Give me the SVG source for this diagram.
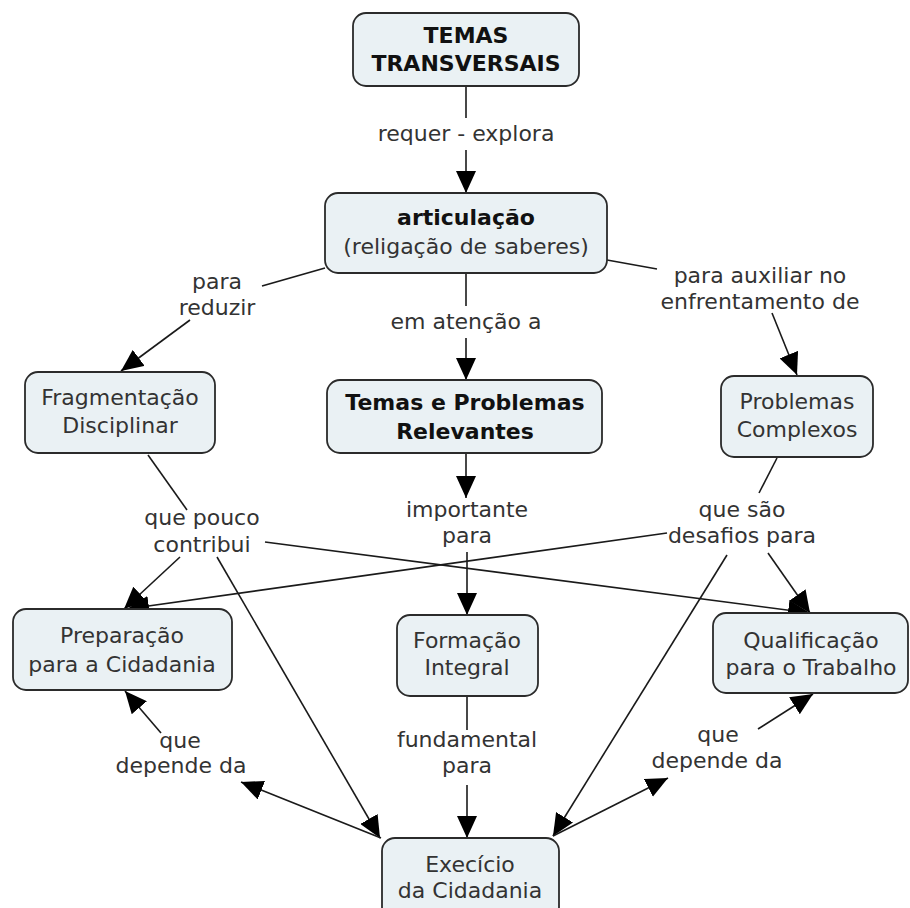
<svg xmlns="http://www.w3.org/2000/svg" width="910" height="908" viewBox="0 0 910 908">
  <defs>
    <marker id="arrow" viewBox="0 0 22 20" refX="22" refY="10" markerWidth="22" markerHeight="20" markerUnits="userSpaceOnUse" orient="auto">
      <path d="M0,0 L22,10 L0,20 z" fill="#000"/>
    </marker>
    <style>
      .box { fill: #eaf1f4; stroke: #2b2b2b; stroke-width: 1.8; }
      .t { font-family: "DejaVu Sans", Verdana, sans-serif; font-size: 22px; fill: #333; text-anchor: middle; }
      .b { font-weight: bold; fill: #111; }
      .c { fill: none; stroke: #1a1a1a; stroke-width: 1.6; }
      .a { marker-end: url(#arrow); }
    </style>
  </defs>
  <rect width="910" height="908" fill="#fff"/>

  <!-- connectors -->
  <g id="connectors">
    <!-- TEMAS TRANSVERSAIS -> articulação -->
    <line class="c" x1="466" y1="86" x2="466" y2="118"/>
    <line class="c a" x1="466" y1="150" x2="466" y2="193"/>
    <!-- articulação -> Fragmentação -->
    <line class="c" x1="325" y1="268" x2="262" y2="286"/>
    <line class="c a" x1="190" y1="320" x2="121" y2="371"/>
    <!-- articulação -> Temas e Problemas -->
    <line class="c" x1="466" y1="273" x2="466" y2="306"/>
    <line class="c a" x1="466" y1="338" x2="466" y2="380"/>
    <!-- articulação -> Problemas Complexos -->
    <line class="c" x1="607" y1="260" x2="657" y2="269"/>
    <line class="c a" x1="772" y1="313" x2="797" y2="375"/>
    <!-- Temas e Problemas -> Formação Integral -->
    <line class="c a" x1="466" y1="453" x2="466" y2="498"/>
    <line class="c a" x1="467" y1="552" x2="467" y2="615"/>
    <!-- Fragmentação -> que pouco contribui -->
    <line class="c" x1="148" y1="455" x2="187" y2="510"/>
    <line class="c a" x1="180" y1="557" x2="124" y2="609"/>
    <line class="c a" x1="265" y1="542" x2="810" y2="613"/>
    <line class="c a" x1="217" y1="557" x2="380" y2="838"/>
    <!-- Problemas Complexos -> que são desafios para -->
    <line class="c" x1="777" y1="458" x2="759" y2="493"/>
    <line class="c a" x1="667" y1="533" x2="127" y2="609"/>
    <line class="c a" x1="768" y1="553" x2="810" y2="613"/>
    <line class="c a" x1="727" y1="555" x2="553" y2="836"/>
    <!-- Formação Integral -> Execício -->
    <line class="c" x1="467" y1="696" x2="467" y2="730"/>
    <line class="c a" x1="467" y1="785" x2="467" y2="838"/>
    <!-- Execício -> que depende da (left) -> Preparação -->
    <line class="c a" x1="381" y1="838" x2="241" y2="782"/>
    <line class="c a" x1="161" y1="733" x2="125" y2="691"/>
    <!-- Execício -> que depende da (right) -> Qualificação -->
    <line class="c a" x1="553" y1="836" x2="668" y2="778"/>
    <line class="c a" x1="758" y1="729" x2="813" y2="694"/>
  </g>

  <!-- connector labels -->
  <g id="labels">
    <text class="t" x="466" y="141">requer - explora</text>
    <text class="t" x="217" y="289">para</text>
    <text class="t" x="217" y="315">reduzir</text>
    <text class="t" x="466" y="329">em atenção a</text>
    <text class="t" x="760" y="283">para auxiliar no</text>
    <text class="t" x="760" y="309">enfrentamento de</text>
    <text class="t" x="467" y="517">importante</text>
    <text class="t" x="467" y="543">para</text>
    <text class="t" x="202" y="525">que pouco</text>
    <text class="t" x="202" y="552">contribui</text>
    <text class="t" x="742" y="517">que são</text>
    <text class="t" x="742" y="543">desafios para</text>
    <text class="t" x="467" y="747">fundamental</text>
    <text class="t" x="467" y="773">para</text>
    <text class="t" x="180" y="748">que</text>
    <text class="t" x="181" y="773">depende da</text>
    <text class="t" x="718" y="742">que</text>
    <text class="t" x="717" y="768">depende da</text>
  </g>

  <!-- nodes -->
  <g id="temas-transversais">
    <rect class="box" x="353" y="13" width="226" height="73" rx="13"/>
    <text class="t b" x="466" y="43">TEMAS</text>
    <text class="t b" x="466" y="71">TRANSVERSAIS</text>
  </g>
  <g id="articulacao">
    <rect class="box" x="325" y="193" width="282" height="80" rx="13"/>
    <text class="t b" x="466" y="225">articulação</text>
    <text class="t" x="466" y="254">(religação de saberes)</text>
  </g>
  <g id="fragmentacao">
    <rect class="box" x="25" y="372" width="190" height="81" rx="13"/>
    <text class="t" x="120" y="405">Fragmentação</text>
    <text class="t" x="120" y="433">Disciplinar</text>
  </g>
  <g id="temas-problemas">
    <rect class="box" x="327" y="380" width="275" height="73" rx="13"/>
    <text class="t b" x="465" y="410">Temas e Problemas</text>
    <text class="t b" x="465" y="439">Relevantes</text>
  </g>
  <g id="problemas-complexos">
    <rect class="box" x="721" y="376" width="152" height="81" rx="13"/>
    <text class="t" x="797" y="409">Problemas</text>
    <text class="t" x="797" y="437">Complexos</text>
  </g>
  <g id="preparacao">
    <rect class="box" x="13" y="609" width="219" height="81" rx="13"/>
    <text class="t" x="122" y="643">Preparação</text>
    <text class="t" x="122" y="672">para a Cidadania</text>
  </g>
  <g id="formacao">
    <rect class="box" x="397" y="615" width="141" height="81" rx="13"/>
    <text class="t" x="467" y="648">Formação</text>
    <text class="t" x="467" y="675">Integral</text>
  </g>
  <g id="qualificacao">
    <rect class="box" x="713" y="613" width="195" height="80" rx="13"/>
    <text class="t" x="811" y="648">Qualificação</text>
    <text class="t" x="811" y="675">para o Trabalho</text>
  </g>
  <g id="exercicio">
    <rect class="box" x="382" y="838" width="177" height="82" rx="13"/>
    <text class="t" x="470" y="872">Execício</text>
    <text class="t" x="470" y="898">da Cidadania</text>
  </g>
</svg>
